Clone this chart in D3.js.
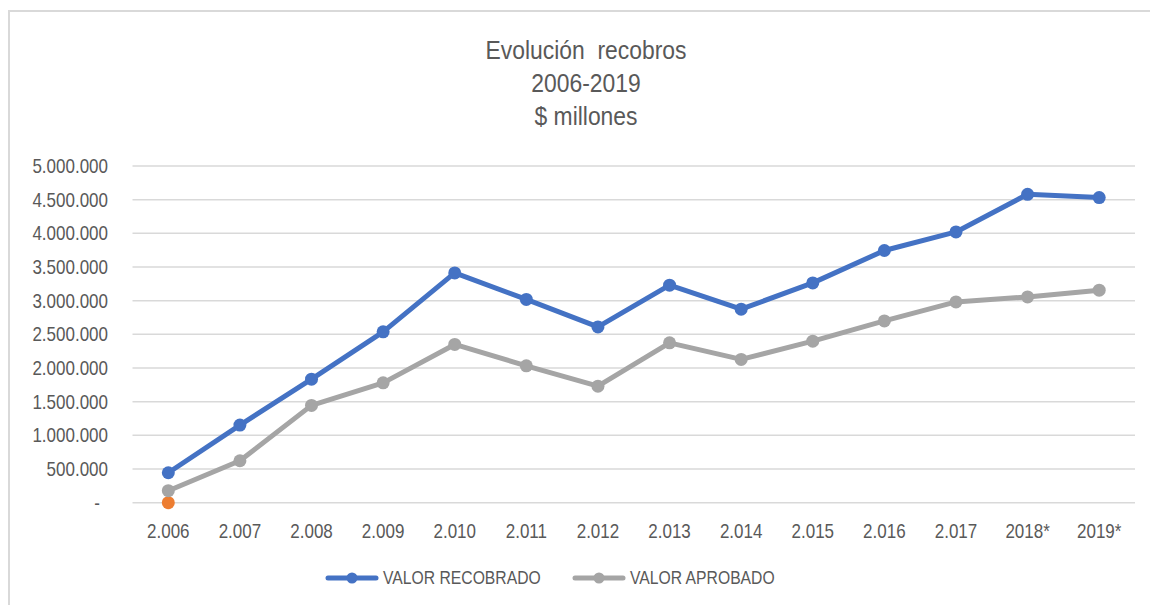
<!DOCTYPE html>
<html>
<head>
<meta charset="utf-8">
<script src="https://cdn.jsdelivr.net/npm/d3@7"></script>
<style>
  body { margin: 0; background: #fff; }
  text { font-family: "Liberation Sans", Arial, sans-serif; fill: #595959; }
</style>
</head>
<body>
<svg id="chart"></svg>
<script>
var years = ["2.006", "2.007", "2.008", "2.009", "2.010", "2.011", "2.012", "2.013", "2.014", "2.015", "2.016", "2.017", "2018*", "2019*"];
var recobrado = [445000, 1153000, 1835000, 2537000, 3412000, 3018000, 2611000, 3230000, 2874000, 3264000, 3745000, 4021000, 4580000, 4531000];
var aprobado = [178000, 623000, 1445000, 1780000, 2350000, 2033000, 1731000, 2374000, 2128000, 2399000, 2700000, 2982000, 3056000, 3156000];
var otro = [0]; // lone orange point at 2006
var yTicks = [0, 500000, 1000000, 1500000, 2000000, 2500000, 3000000, 3500000, 4000000, 4500000, 5000000];
var titleLines = ["Evolución  recobros", "2006-2019", "$ millones"];
var seriesNames = ["VALOR RECOBRADO", "VALOR APROBADO"];

var width = 1150, height = 605;
var blue = "#4472c4", gray = "#a5a5a5", orange = "#ed7d31";
var narrow = 0.85; // squeeze text to look like a narrow font

var svg = d3.select("#chart").attr("width", width).attr("height", height);

// places a text at (x,y) squeezed horizontally
function place(px, py, s) {
  return "translate(" + px + "," + py + ") scale(" + (s || narrow) + ",1)";
}

// outer frame (only top and left edges are visible)
svg.append("path")
  .attr("d", "M9,606 V11 H1151")
  .attr("fill", "none")
  .attr("stroke", "#d9d9d9")
  .attr("stroke-width", 2);

var x = d3.scaleBand().domain(years).range([132.5, 1135]);
var y = d3.scaleLinear().domain([0, 5000000]).range([502.7, 166]);

// gridlines
svg.append("g").selectAll("line")
  .data(yTicks)
  .enter().append("line")
  .attr("x1", 132.5).attr("x2", 1135)
  .attr("y1", function(d) { return y(d); })
  .attr("y2", function(d) { return y(d); })
  .attr("stroke", "#d9d9d9")
  .attr("stroke-width", 1.5);

// y axis labels
var fmt = function(d) {
  if (d === 0) return "-";
  return d3.format(",")(d).replace(/,/g, ".");
};
svg.append("g").selectAll("text")
  .data(yTicks)
  .enter().append("text")
  .attr("transform", function(d) { return place(d === 0 ? 100 : 108, y(d)); })
  .attr("dy", "0.35em")
  .attr("text-anchor", "end")
  .style("font-size", "20px")
  .text(fmt);

// x axis labels
svg.append("g").selectAll("text")
  .data(years)
  .enter().append("text")
  .attr("transform", function(d) { return place(x(d) + x.bandwidth() / 2, 531); })
  .attr("dy", "0.35em")
  .attr("text-anchor", "middle")
  .style("font-size", "20px")
  .text(function(d) { return d; });

// title
svg.append("g").selectAll("text")
  .data(titleLines)
  .enter().append("text")
  .attr("transform", function(d, i) { return place(586, 50 + i * 33, 0.88); })
  .attr("dy", "0.35em")
  .attr("text-anchor", "middle")
  .style("font-size", "26px")
  .style("white-space", "pre")
  .text(function(d) { return d; });

var line = d3.line()
  .x(function(d, i) { return x(years[i]) + x.bandwidth() / 2; })
  .y(function(d) { return y(d); });

function drawSeries(values, color) {
  svg.append("path")
    .datum(values)
    .attr("d", line)
    .attr("fill", "none")
    .attr("stroke", color)
    .attr("stroke-width", 5)
    .attr("stroke-linejoin", "round");
  svg.append("g").selectAll("circle")
    .data(values)
    .enter().append("circle")
    .attr("cx", function(d, i) { return x(years[i]) + x.bandwidth() / 2; })
    .attr("cy", function(d) { return y(d); })
    .attr("r", 6.5)
    .attr("fill", color);
}

drawSeries(otro, orange);
drawSeries(aprobado, gray);
drawSeries(recobrado, blue);

// legend
var legend = [
  { name: seriesNames[0], color: blue, x: 328 },
  { name: seriesNames[1], color: gray, x: 575 }
];
var lg = svg.append("g").selectAll("g")
  .data(legend)
  .enter().append("g")
  .attr("transform", function(d) { return "translate(" + d.x + ",578)"; });
lg.append("line")
  .attr("x1", 0).attr("x2", 48)
  .attr("stroke", function(d) { return d.color; })
  .attr("stroke-width", 5)
  .attr("stroke-linecap", "round");
lg.append("circle")
  .attr("cx", 24).attr("r", 5.5)
  .attr("fill", function(d) { return d.color; });
lg.append("text")
  .attr("transform", place(55, 0))
  .attr("dy", "0.35em")
  .style("font-size", "18.5px")
  .text(function(d) { return d.name; });
</script>
</body>
</html>
